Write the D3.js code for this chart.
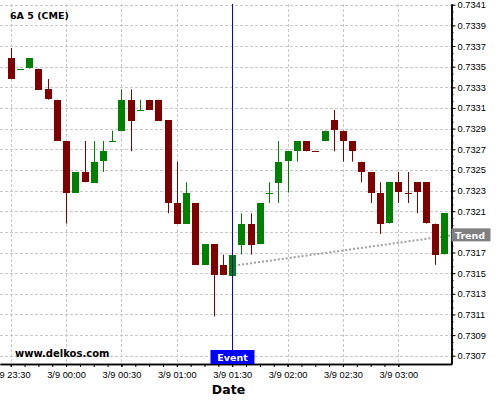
<!DOCTYPE html>
<html>
<head>
<meta charset="utf-8">
<script src="https://cdn.jsdelivr.net/npm/d3@7"></script>
<style>
  body { margin: 0; background: #fff; }
  svg { display: block; font-family: "DejaVu Sans", sans-serif; }
  .grid line { stroke: #c8c8c8; stroke-dasharray: 3,2; }
  .axis text { font-size: 9.3px; fill: #000; }
  .axis path, .axis line { stroke: #000; }
</style>
</head>
<body>
<div id="chart"></div>
<script>
var width = 500,
  height = 400,
  plotLeft = 0,
  plotRight = 451.5,
  plotTop = 4,
  plotBottom = 364;

// 5 minute candles, first one at 23:30
var startTime = new Date(2020, 2, 8, 23, 30);
var barMinutes = 5;

var opens = [0.73358, 0.73348, 0.73348, 0.73348, 0.73328, 0.73318, 0.73278, 0.73228, 0.73248, 0.73238,
  0.73258, 0.73278, 0.73288, 0.73318, 0.73308, 0.73318, 0.73318, 0.73298, 0.73218, 0.73198,
  0.73218, 0.73158, 0.73178, 0.73158, 0.73148, 0.73178, 0.73198, 0.73178, 0.73228, 0.73238,
  0.73258, 0.73268, 0.73278, 0.73268, 0.73278, 0.73298, 0.73288, 0.73278, 0.73258, 0.73248,
  0.73228, 0.73198, 0.73238, 0.73228, 0.73238, 0.73238, 0.73198, 0.73168];
var highs = [0.73368, 0.73348, 0.73358, 0.73348, 0.73338, 0.73318, 0.73278, 0.73248, 0.73278, 0.73278,
  0.73278, 0.73288, 0.73328, 0.73328, 0.73318, 0.73318, 0.73318, 0.73298, 0.73258, 0.73238,
  0.73218, 0.73178, 0.73178, 0.73168, 0.73168, 0.73208, 0.73208, 0.73218, 0.73238, 0.73278,
  0.73268, 0.73278, 0.73278, 0.73268, 0.73288, 0.73308, 0.73288, 0.73278, 0.73258, 0.73248,
  0.73238, 0.73238, 0.73248, 0.73248, 0.73238, 0.73238, 0.73198, 0.73208];
var lows = [0.73338, 0.73348, 0.73348, 0.73328, 0.73318, 0.73278, 0.73198, 0.73228, 0.73238, 0.73238,
  0.73248, 0.73278, 0.73288, 0.73268, 0.73308, 0.73308, 0.73298, 0.73208, 0.73198, 0.73198,
  0.73158, 0.73158, 0.73108, 0.73148, 0.73148, 0.73168, 0.73168, 0.73178, 0.73218, 0.73218,
  0.73228, 0.73258, 0.73268, 0.73268, 0.73278, 0.73268, 0.73258, 0.73258, 0.73238, 0.73218,
  0.73188, 0.73198, 0.73218, 0.73218, 0.73208, 0.73198, 0.73158, 0.73168];
var closes = [0.73338, 0.73348, 0.73358, 0.73328, 0.73318, 0.73278, 0.73228, 0.73248, 0.73238, 0.73258,
  0.73268, 0.73278, 0.73318, 0.73298, 0.73308, 0.73308, 0.73298, 0.73218, 0.73198, 0.73228,
  0.73158, 0.73178, 0.73148, 0.73148, 0.73168, 0.73198, 0.73178, 0.73218, 0.73228, 0.73258,
  0.73268, 0.73278, 0.73268, 0.73268, 0.73288, 0.73288, 0.73278, 0.73268, 0.73248, 0.73228,
  0.73198, 0.73238, 0.73228, 0.73228, 0.73228, 0.73198, 0.73168, 0.73208];

var yTicks = [0.7307, 0.7309, 0.7311, 0.7313, 0.7315, 0.7317, 0.7319, 0.7321, 0.7323,
  0.7325, 0.7327, 0.7329, 0.7331, 0.7333, 0.7335, 0.7337, 0.7339, 0.7341];
var xTickLabels = ['3/9 23:30', '3/9 00:00', '3/9 00:30', '3/9 01:00', '3/9 01:30',
  '3/9 02:00', '3/9 02:30', '3/9 03:00'];

var eventBar = 24;           // candle the event line sits on
var trendPrices = [0.731573, 0.731866]; // start at event, end at right edge

var minute = 60000;
var times = opens.map(function (d, i) {
  return new Date(startTime.getTime() + i * barMinutes * minute);
});
var xTickTimes = xTickLabels.map(function (d, i) {
  return new Date(startTime.getTime() + i * 30 * minute);
});
var xMinorTimes = d3.range(0, 29).map(function (i) {
  return new Date(startTime.getTime() + i * 7.5 * minute);
});
var yMinor = d3.range(0, 52).map(function (i) {
  return yTicks[0] + i * 0.0002 / 3;
});

var xScale = d3.scaleTime()
  .domain([new Date(startTime.getTime() - 5.8 * minute), new Date(startTime.getTime() + 238.8 * minute)])
  .range([plotLeft, plotRight]);

var yScale = d3.scaleLinear()
  .domain([0.73062, 0.734107])
  .range([plotBottom, plotTop]);

var svg = d3.select('#chart')
  .append('svg')
  .attr('width', width)
  .attr('height', height);

// grid
var grid = svg.append('g').attr('class', 'grid');
grid.selectAll('line.h')
  .data(yTicks)
  .enter()
  .append('line')
  .attr('class', 'h')
  .attr('x1', plotLeft)
  .attr('x2', plotRight)
  .attr('y1', function (d) { return Math.round(yScale(d)) + 0.5; })
  .attr('y2', function (d) { return Math.round(yScale(d)) + 0.5; });
grid.selectAll('line.v')
  .data(xTickTimes)
  .enter()
  .append('line')
  .attr('class', 'v')
  .attr('x1', function (d) { return Math.round(xScale(d)) + 0.5; })
  .attr('x2', function (d) { return Math.round(xScale(d)) + 0.5; })
  .attr('y1', plotTop)
  .attr('y2', plotBottom);

// trend line (behind candles)
var trendStart = times[eventBar];
var trendEnd = xScale.domain()[1];
svg.append('line')
  .attr('x1', xScale(trendStart) + 2)
  .attr('y1', yScale(trendPrices[0]))
  .attr('x2', xScale(trendEnd))
  .attr('y2', yScale(trendPrices[1]))
  .attr('stroke', '#a0a0a0')
  .attr('stroke-width', 2)
  .attr('stroke-dasharray', '2,2');

// candles
var isUp = function (i) {
  if (closes[i] !== opens[i]) return closes[i] > opens[i];
  return i > 0 && closes[i] > closes[i - 1];
};

var candles = svg.selectAll('g.candle')
  .data(times)
  .enter()
  .append('g')
  .attr('class', 'candle')
  .attr('fill', function (d, i) { return isUp(i) ? '#008000' : '#800000'; })
  .attr('stroke', function (d, i) { return isUp(i) ? '#008000' : '#800000'; });

candles.append('line')
  .attr('x1', function (d) { return Math.round(xScale(d)) + 0.5; })
  .attr('x2', function (d) { return Math.round(xScale(d)) + 0.5; })
  .attr('y1', function (d, i) { return yScale(highs[i]); })
  .attr('y2', function (d, i) { return yScale(lows[i]); })
  .attr('stroke-width', 1);

candles.append('rect')
  .attr('stroke', 'none')
  .attr('x', function (d) { return Math.round(xScale(d)) - 3; })
  .attr('width', 7)
  .attr('y', function (d, i) { return Math.round(yScale(Math.max(opens[i], closes[i]))); })
  .attr('height', function (d, i) {
    return Math.max(1, Math.round(Math.abs(yScale(opens[i]) - yScale(closes[i]))));
  });

// axes
var ty = yScale(trendPrices[1]);
var yAxis = d3.axisRight(yScale)
  .tickValues(yTicks)
  .tickSize(4)
  .tickSizeOuter(0)
  .tickFormat(function (d) {
    // the trend label box covers this one
    return Math.abs(yScale(d) - ty) < 9 ? '' : d3.format('.4f')(d);
  });
var yMinorAxis = d3.axisRight(yScale)
  .tickValues(yMinor)
  .tickSize(2)
  .tickSizeOuter(0)
  .tickFormat('');

svg.append('g')
  .attr('class', 'axis y')
  .attr('transform', 'translate(' + plotRight + ',0)')
  .call(yMinorAxis);
svg.append('g')
  .attr('class', 'axis y')
  .attr('transform', 'translate(' + plotRight + ',0)')
  .call(yAxis)
  .selectAll('text')
  .attr('x', 6);

var xAxis = d3.axisBottom(xScale)
  .tickValues(xTickTimes)
  .tickSize(3)
  .tickSizeOuter(0)
  .tickFormat(function (d, i) { return xTickLabels[i]; });
var xMinorAxis = d3.axisBottom(xScale)
  .tickValues(xMinorTimes)
  .tickSize(3)
  .tickSizeOuter(0)
  .tickFormat('');

svg.append('g')
  .attr('class', 'axis x')
  .attr('transform', 'translate(0,' + plotBottom + ')')
  .call(xMinorAxis);
svg.append('g')
  .attr('class', 'axis x')
  .attr('transform', 'translate(0,' + plotBottom + ')')
  .call(xAxis)
  .selectAll('text')
  .attr('y', 7);

svg.selectAll('.axis path').attr('stroke-width', 1.5);

// event marker
var ex = Math.round(xScale(times[eventBar])) + 0.5;
svg.append('line')
  .attr('x1', ex).attr('x2', ex)
  .attr('y1', plotTop).attr('y2', plotBottom - 14)
  .attr('stroke', '#0000ff')
  .attr('stroke-width', 1);
svg.append('rect')
  .attr('x', ex - 22).attr('y', plotBottom - 14)
  .attr('width', 44).attr('height', 14)
  .attr('fill', '#0000ff');
svg.append('text')
  .attr('x', ex).attr('y', plotBottom - 3.5)
  .attr('text-anchor', 'middle')
  .attr('fill', '#fff')
  .attr('font-weight', 'bold')
  .attr('font-size', '9.5px')
  .text('Event');

// trend label
svg.append('rect')
  .attr('x', plotRight).attr('y', ty - 7)
  .attr('width', 39).attr('height', 13)
  .attr('fill', '#808080');
svg.append('text')
  .attr('x', plotRight + 3.5).attr('y', ty + 3.5)
  .attr('fill', '#fff')
  .attr('font-weight', 'bold')
  .attr('font-size', '9.5px')
  .text('Trend');

// texts
svg.append('text')
  .attr('x', 10).attr('y', 19)
  .attr('font-weight', 'bold')
  .attr('font-size', '9.5px')
  .text('6A 5 (CME)');

svg.append('text')
  .attr('x', 15).attr('y', 357)
  .attr('font-weight', 'bold')
  .attr('font-size', '10px')
  .text('www.delkos.com');

svg.append('text')
  .attr('x', ex - 4).attr('y', 394)
  .attr('text-anchor', 'middle')
  .attr('font-weight', 'bold')
  .attr('font-size', '12.5px')
  .text('Date');
</script>
</body>
</html>
